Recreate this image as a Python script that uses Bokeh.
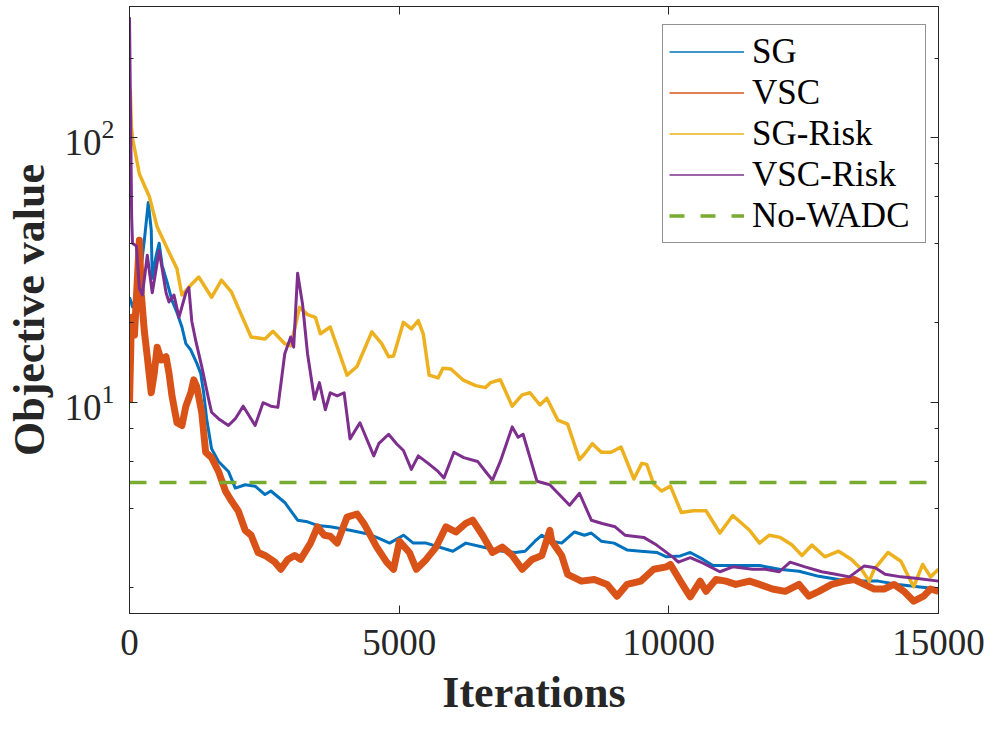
from bokeh.plotting import figure
from bokeh.models import (Range1d, LinearAxis, LogAxis, FixedTicker, LogTicker,
                          Legend, LegendItem, CustomJSTickFormatter)
from bokeh.embed import file_html
from bokeh.resources import INLINE

FONT = "Liberation Serif"
AX = "#262626"

# ---------------- data ----------------
X_RANGE = (0, 15000)
Y_RANGE = (1.6, 313)
X_TICKS = [0, 5000, 10000, 15000]
NO_WADC = 5.0

SG_X = [0, 55, 128, 183, 275, 348, 403, 422, 495, 550,
        605, 697, 788, 880, 972, 1045, 1137, 1247, 1320, 1375,
        1430, 1522, 1650, 1834, 1962, 2145, 2329, 2512, 2622, 2879,
        3117, 3301, 3484, 3722, 4089, 4401, 4584, 4823, 5079, 5262,
        5501, 5996, 6235, 6546, 6913, 7152, 7335, 7518, 7646, 7830,
        8013, 8252, 8435, 8563, 8747, 8985, 9224, 9480, 9774, 9957,
        10214, 10397, 10636, 10819, 11258, 11681, 12048, 12414, 12781, 13148,
        13514, 13881, 14248, 14615, 15000]
SG_Y = [25, 23, 25.5, 28.5, 41, 57, 45, 29.5, 36, 40,
        33, 28.5, 24.3, 21.9, 19.3, 16.7, 15.8, 14.1, 12.9, 10.9,
        8.7, 6.7, 6.0, 5.5, 4.76, 4.9, 4.84, 4.5, 4.64, 4.2,
        3.6, 3.55, 3.44, 3.4, 3.3, 3.2, 3.1, 2.95, 3.16, 2.95,
        2.95, 2.75, 2.95, 2.85, 2.75, 2.72, 2.75, 3.0, 3.16, 3.0,
        2.95, 3.25, 3.16, 3.22, 3.0, 2.95, 2.78, 2.75, 2.72, 2.62,
        2.64, 2.72, 2.56, 2.43, 2.43, 2.43, 2.35, 2.31, 2.21, 2.15,
        2.12, 2.12, 2.06, 2.02, 1.98]

VSC_X = [0, 37, 92, 183, 220, 275, 330, 403, 458, 513,
         587, 678, 733, 788, 880, 972, 1045, 1137, 1192, 1247,
         1339, 1412, 1522, 1650, 1779, 1889, 2017, 2145, 2255, 2384,
         2512, 2696, 2806, 2934, 3062, 3172, 3356, 3484, 3612, 3722,
         3851, 4034, 4218, 4346, 4584, 4768, 4896, 5006, 5189, 5318,
         5501, 5685, 5868, 6051, 6235, 6363, 6546, 6730, 6913, 7096,
         7280, 7463, 7646, 7793, 7830, 8013, 8123, 8380, 8618, 8857,
         9040, 9224, 9480, 9719, 9957, 10030, 10214, 10397, 10580, 10690,
         10874, 11057, 11240, 11497, 11681, 11919, 12158, 12414, 12597, 12781,
         13019, 13258, 13441, 13624, 13808, 13991, 14175, 14358, 14541, 14725,
         14853, 15000]
VSC_Y = [10, 21, 18, 41, 25.5, 18.6, 14.9, 10.9, 12.9, 16.2,
         14.5, 14.9, 12.9, 10.6, 8.4, 8.2, 9.7, 10.9, 12.2, 11.5,
         9.2, 6.5, 6.2, 5.5, 4.64, 4.26, 3.9, 3.3, 3.16, 2.72,
         2.65, 2.5, 2.35, 2.56, 2.65, 2.56, 2.95, 3.4, 3.16, 3.13,
         2.95, 3.7, 3.8, 3.5, 2.85, 2.5, 2.35, 3.0, 2.72, 2.35,
         2.56, 2.85, 3.4, 3.25, 3.5, 3.6, 3.16, 2.72, 2.85, 2.65,
         2.35, 2.56, 2.65, 3.3, 3.0, 2.65, 2.25, 2.12, 2.15, 2.06,
         1.86, 2.06, 2.12, 2.35, 2.4, 2.45, 2.12, 1.85, 2.12, 1.94,
         2.15, 2.12, 2.06, 2.12, 2.06, 1.98, 1.94, 2.06, 1.86, 1.94,
         2.06, 2.12, 2.15, 2.06, 1.98, 1.98, 2.06, 1.94, 1.78, 1.86,
         1.98, 1.94]

SGR_X = [0, 15, 35, 55, 183, 367, 513, 733, 880, 972,
         1137, 1284, 1522, 1705, 1889, 2072, 2255, 2512, 2659, 2879,
         2989, 3154, 3301, 3447, 3539, 3722, 4034, 4218, 4493, 4676,
         4804, 4896, 5079, 5226, 5354, 5446, 5556, 5721, 5813, 5960,
         6180, 6418, 6601, 6693, 6876, 7096, 7280, 7426, 7610, 7738,
         7940, 8123, 8343, 8435, 8582, 8747, 8930, 9114, 9352, 9498,
         9590, 9719, 9865, 10030, 10232, 10452, 10690, 10947, 11186, 11497,
         11681, 11864, 12066, 12286, 12469, 12653, 12891, 13148, 13386, 13570,
         13716, 13808, 14065, 14303, 14450, 14541, 14706, 14853, 15000]
SGR_Y = [120, 150, 110, 100, 73, 60, 46, 37, 32, 25.5,
         27.8, 29.8, 25, 29, 26.2, 21.5, 17.7, 17.4, 18.6, 16.7,
         16.4, 22.9, 21.5, 21.0, 18.2, 19.3, 12.7, 13.7, 18.5, 16.7,
         14.9, 15.0, 20.1, 19.0, 20.4, 18.2, 12.7, 12.4, 13.5, 13.4,
         12.2, 11.6, 11.4, 11.9, 12.2, 9.7, 10.7, 10.9, 9.8, 10.4,
         8.6, 8.3, 6.1, 6.4, 7.0, 6.5, 6.5, 6.8, 5.15, 5.9,
         5.85, 4.93, 4.64, 4.84, 3.85, 3.91, 3.91, 3.22, 3.75, 3.30,
         2.95, 3.16, 3.1, 2.9, 2.65, 2.9, 2.62, 2.75, 2.56, 2.35,
         2.12, 2.35, 2.72, 2.52, 2.19, 2.02, 2.45, 2.2, 2.35]

VSCR_X = [0, 40, 55, 128, 183, 238, 330, 422, 550, 678,
          733, 825, 917, 1045, 1100, 1155, 1229, 1339, 1467, 1522,
          1650, 1834, 1962, 2109, 2329, 2476, 2622, 2751, 2879, 2989,
          3044, 3117, 3209, 3301, 3429, 3521, 3631, 3722, 3851, 3979,
          4089, 4273, 4529, 4621, 4804, 4951, 5079, 5226, 5354, 5538,
          5721, 5831, 6015, 6198, 6455, 6601, 6730, 6876, 7096, 7206,
          7298, 7426, 7555, 7794, 8160, 8343, 8563, 8765, 9004, 9187,
          9535, 9774, 10086, 10177, 10397, 10636, 10947, 11186, 11553, 11791,
          12048, 12249, 12524, 12836, 13093, 13350, 13624, 13826, 14010, 14303,
          14615, 15000]
VSCR_Y = [285, 50, 40, 39, 27, 25.5, 36, 26, 37.5, 26,
          24, 25.5, 21, 26, 27.2, 20.3, 17.1, 13.7, 10.3, 9.2,
          8.7, 8.2, 8.7, 9.7, 8.2, 10, 9.7, 9.6, 15.3, 17.7,
          16.2, 30.8, 23.5, 15.3, 10.3, 11.9, 9.4, 10.9, 10.6, 10.9,
          7.3, 8.4, 6.3, 7.0, 7.6, 7.0, 6.6, 5.6, 6.3, 5.9,
          5.5, 5.2, 6.5, 6.2, 6.0, 5.5, 5.1, 6.0, 8.1, 7.4,
          7.6, 6.2, 5.05, 4.9, 4.1, 4.55, 3.6, 3.5, 3.4, 3.16,
          3.1, 2.9, 2.6, 2.5, 2.6, 2.48, 2.3, 2.4, 2.35, 2.35,
          2.3, 2.5, 2.4, 2.3, 2.25, 2.2, 2.42, 2.38, 2.25, 2.2,
          2.17, 2.12]

NAMES = ["SG", "VSC", "SG-Risk", "VSC-Risk", "No-WADC"]
COLORS = ["#0072BD", "#D95319", "#EDB120", "#7E2F8E", "#77AC30"]
X_LABEL = "Iterations"
Y_LABEL = "Objective value"

# ---------------- figure ----------------
p = figure(width=988, height=720, x_range=Range1d(*X_RANGE), y_range=Range1d(*Y_RANGE),
           y_axis_type="log", output_backend="svg", toolbar_location=None,
           min_border_left=129, min_border_right=50, min_border_top=6, min_border_bottom=107)
p.grid.visible = False
p.outline_line_color = AX
p.background_fill_color = "white"
p.border_fill_color = "white"

series = [(SG_X, SG_Y, 3.0), (VSC_X, VSC_Y, 7.0), (SGR_X, SGR_Y, 3.5), (VSCR_X, VSCR_Y, 3.0)]
for (xs, ys, w), c in zip(series, COLORS[:4]):
    p.line(xs, ys, line_color=c, line_width=w, line_join="round")
p.line([X_RANGE[0], X_RANGE[1]], [NO_WADC, NO_WADC], line_color=COLORS[4], line_width=3.5,
       line_dash="17 13")

# legend proxies: thin lines as in the reference legend (a one-point line draws nothing)
proxies = []
for (xs, ys, w), c in zip(series, COLORS[:4]):
    proxies.append(p.line(xs[:1], ys[:1], line_color=c, line_width=1.5))
proxies.append(p.line([X_RANGE[0]], [NO_WADC], line_color=COLORS[4], line_width=3.5,
                      line_dash="15 16"))

legend = Legend(items=[LegendItem(label=n, renderers=[r]) for n, r in zip(NAMES, proxies)],
                location=(533, 370), label_text_font=FONT, label_text_font_size="35px",
                label_text_color="black", glyph_width=75, glyph_height=41, label_height=41,
                label_width=167, label_standoff=8, padding=6, spacing=0, margin=0,
                border_line_color=AX, border_line_width=1,
                background_fill_color="white", background_fill_alpha=1.0)
p.add_layout(legend)


def style(ax):
    ax.axis_line_color = AX
    ax.axis_line_width = 1
    ax.major_tick_in = 8
    ax.major_tick_out = 0
    ax.minor_tick_in = 4
    ax.minor_tick_out = 0
    ax.major_tick_line_color = AX
    ax.minor_tick_line_color = AX
    ax.major_label_text_font = FONT
    ax.major_label_text_font_size = "37px"
    ax.major_label_text_color = AX
    ax.axis_label_text_font = FONT
    ax.axis_label_text_font_size = "44px"
    ax.axis_label_text_font_style = "bold"
    ax.axis_label_text_color = AX


xb = p.below[0]
xb.ticker = FixedTicker(ticks=X_TICKS)
style(xb)
xb.minor_tick_line_color = None
xb.major_label_standoff = 16
xb.axis_label = X_LABEL
xb.axis_label_standoff = 10

yl = p.left[0]
yl.ticker = LogTicker()
style(yl)
yl.major_label_standoff = 15
yl.axis_label = Y_LABEL
yl.axis_label_standoff = 8

empty = CustomJSTickFormatter(code="return ''")
xt = LinearAxis(ticker=FixedTicker(ticks=X_TICKS), formatter=empty)
style(xt)
xt.minor_tick_line_color = None
xt.major_label_standoff = 0
xt.major_label_text_font_size = "0px"
p.add_layout(xt, "above")

yr = LogAxis(ticker=LogTicker(), formatter=CustomJSTickFormatter(code="return ''"))
style(yr)
yr.major_label_standoff = 0
yr.major_label_text_font_size = "0px"
p.add_layout(yr, "right")

open("out.html", "w").write(file_html(p, INLINE))
